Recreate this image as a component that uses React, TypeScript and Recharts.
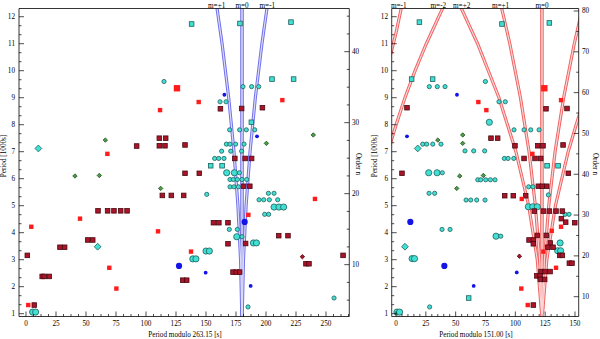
import { ComposedChart, XAxis, YAxis, Scatter, Line, ReferenceDot } from 'recharts'

type Pt = [number, number]

// shared period axis, in 1000 s
const periodRange: Pt = [0.896, 12.304]

// ---------- left panel: period modulo 263.15 s ----------
const xRangeL: Pt = [-5.83, 269.4]
const orderRangeL: Pt = [2.7, 46.08]

const cyanSmallL: Pt[] = [
  [115, 9.6], [161.7, 8.85], [166.7, 8.85], [180.8, 9.41], [188, 9.41], [193.9, 9.41],
  [169.7, 7.81], [178, 7.81], [183.6, 7.81], [190.6, 7.81],
  [167, 7.28], [170, 7.28], [174.7, 7.28], [181.7, 7.28],
  [163, 7.02], [170.6, 7.02], [179.7, 7.02],
  [157.2, 6.75], [160.6, 6.75], [165, 6.75],
  [177.8, 6.22],
  [170, 5.97], [172.8, 5.97], [176.1, 5.97], [180, 5.97], [183.9, 5.97],
  [170, 5.7], [173.3, 5.7], [177, 5.7],
  [150.6, 5.42], [202, 5.46], [206.7, 5.46],
  [194.2, 5.22], [198.1, 5.22], [202.8, 5.22], [209.7, 5.22],
  [198.9, 4.68], [202.2, 4.68],
  [169.4, 4.12], [176.1, 4.12],
  [180, 3.85], [185, 1.25], [256.7, 1.58],
]
const cyanBigL: Pt[] = [
  [167.2, 6.22], [173.6, 6.22], [206.7, 4.95], [210.8, 4.95], [214.7, 4.95],
  [175.6, 3.85], [189.5, 3.62], [192, 3.62], [150, 3.32], [152.8, 3.32],
  [139, 3.03], [141.6, 3.03], [5.5, 1.06], [8, 1.06],
]
const cyanSquareL: Pt[] = [
  [138, 11.73], [178.3, 11.75], [220.8, 11.8], [205, 9.69], [223, 9.69],
  [187.8, 8.09], [153.9, 6.48], [163.4, 6.48],
]
const cyanDiamondL: Pt[] = [[10.3, 7.12], [59.7, 3.48]]
const greenL: Pt[] = [[66.1, 7.43], [200.3, 7.31], [239.4, 7.62], [40.8, 6.1], [61.1, 6.12], [112.2, 5.64]]
const blueSmallL: Pt[] = [[165.3, 9.11], [192.5, 7.57], [149.7, 2.52], [187.2, 2.03]]
const blueBigL: Pt[] = [[182.2, 4.4], [127.5, 2.77]]
const redL: Pt[] = [
  [143.9, 8.84], [111.7, 8.54], [213.6, 8.91], [67.8, 6.92], [240.8, 5.25], [45, 4.52],
  [4.4, 4.22], [185.3, 4.66], [110, 4.05], [137.5, 3.3], [69.4, 2.7], [75.3, 1.93], [1.9, 1.32],
]
const redBigL: Pt[] = [[125.8, 9.35]]
const darkRedL: Pt[] = [
  [162, 8.59], [179.7, 8.6], [197, 8.63],
  [92.2, 7.21], [111.1, 7.5], [116.4, 7.5], [111.1, 7.22], [115.8, 7.22], [132.5, 7.25],
  [174, 6.75], [182.6, 6.75], [188, 6.75],
  [132.5, 6.2], [144.4, 6.2],
  [181.3, 5.72], [186.5, 5.72],
  [113.6, 5.38], [121.1, 5.38], [131.4, 5.38],
  [60, 4.81], [68, 4.81], [73.3, 4.81], [78.9, 4.81], [84.2, 4.81],
  [156.2, 4.37], [160.7, 4.37], [168.3, 4.37],
  [210.6, 3.89], [218.3, 3.89],
  [51.4, 3.73], [55.6, 3.73],
  [28.3, 3.46], [32.2, 3.46],
  [168.3, 3.59], [183, 3.6],
  [1.1, 3.16], [264.2, 3.16],
  [233.3, 2.85], [235.8, 2.85],
  [172.5, 2.54], [175.3, 2.54], [178, 2.54],
  [13.5, 2.38], [15.2, 2.38], [19.4, 2.38],
  [130.6, 2.24], [133.9, 2.24],
  [6.9, 1.32],
]
const darkRedDotL: Pt[] = [[230.3, 3.11]]

// splitting curves
const mZeroL: Pt[] = [[180, 0.8], [180, 12.5]]
const mPlus1L: Pt[] = [[179.9, 0.8], [178.8, 3], [176.6, 5], [173.3, 7], [168.9, 9], [163.4, 11], [158.9, 12.4]]
const mMinus1L: Pt[] = [[180.1, 0.8], [181.2, 3], [183.4, 5], [186.7, 7], [191.1, 9], [196.6, 11], [201.1, 12.4]]
const mLabelsL = [
  { text: 'm=+1', x: 158.9 },
  { text: 'm=0', x: 180 },
  { text: 'm=-1', x: 201.1 },
]

// ---------- right panel: period modulo 151.00 s ----------
const xRangeR: Pt = [-3.6, 153.1]
const orderRangeR: Pt = [5.15, 80.61]

const cyanSmallR: Pt[] = [
  [27.9, 9.41], [34.6, 9.41], [41.1, 9.41], [74.9, 9.6], [86.3, 8.85], [91.6, 8.85],
  [98.9, 7.81], [107.3, 7.81], [112.9, 7.81], [119.9, 7.81],
  [22.4, 7.28], [25.7, 7.28], [30.8, 7.28], [37.7, 7.28],
  [57.8, 7.03], [65.1, 7.03], [74.3, 7.03],
  [90.8, 6.75], [93.9, 6.75], [98.7, 6.75],
  [38.8, 6.22],
  [68.5, 5.96], [71, 5.96], [75.2, 5.96], [79.1, 5.96], [83, 5.96],
  [111.2, 5.7], [114.8, 5.7],
  [27.7, 5.46], [32.4, 5.46],
  [58.7, 5.21], [62.6, 5.21], [67.6, 5.21], [74.6, 5.21],
  [127.7, 5.4], [141.7, 4.68], [145, 4.68],
  [38.6, 4.12], [45.3, 4.12], [87.8, 3.87], [28.2, 1.25],
]
const cyanBigR: Pt[] = [
  [78.2, 8.09], [27.4, 6.22], [34.4, 6.22], [110.9, 4.96], [114.6, 4.96], [118.4, 4.96],
  [83.8, 3.87], [137.5, 3.62], [135.5, 3.33], [138, 3.33], [13.5, 3.04], [15.5, 3.04],
  [0.8, 1.06], [3, 1.06],
]
const cyanSquareR: Pt[] = [
  [19.6, 11.8], [88.8, 11.73], [128.5, 11.77], [13.1, 9.69], [30.7, 9.69],
  [126.6, 6.48], [135.8, 6.48], [60.9, 1.58],
]
const cyanDiamondR: Pt[] = [[18.2, 7.12], [7.5, 3.48]]
const greenR: Pt[] = [[35, 7.43], [55.9, 7.62], [55.9, 7.31], [53.4, 6.1], [73.2, 6.12], [50.9, 5.64]]
const blueSmallR: Pt[] = [[51.1, 9.11], [9.2, 7.57], [101.2, 2.53], [65.1, 2.03]]
const blueBigR: Pt[] = [[12, 4.4], [40.5, 2.77]]
const redR: Pt[] = [
  [69, 8.84], [75.7, 8.54], [138.3, 8.91], [114.3, 6.92], [105.4, 5.25], [138.3, 4.22],
  [130.5, 4.07], [123.5, 3.3], [134.1, 2.7], [105, 1.93], [110.4, 1.32],
]
const redBigR: Pt[] = [[124.3, 9.35]]
const darkRedR: Pt[] = [
  [9.2, 8.63], [125.7, 8.59], [143.3, 8.6],
  [79.6, 7.5], [85.2, 7.5],
  [99.7, 7.22], [118.8, 7.22], [123.2, 7.22], [140, 7.25],
  [107.3, 6.75], [116.5, 6.75], [121.3, 6.75],
  [5, 6.2], [144.4, 6.2],
  [119.3, 5.72], [122.6, 5.72], [126.3, 5.72],
  [91.1, 5.37], [98.3, 5.37], [108.7, 5.37],
  [115.9, 4.8], [123.5, 4.8], [128.5, 4.8], [134.1, 4.8], [139.4, 4.8],
  [138.6, 4.52], [142.2, 4.39], [149.8, 4.37],
  [118.4, 3.9], [126, 3.9],
  [111.5, 3.73], [115.1, 3.73],
  [115.1, 3.59], [129.3, 3.62],
  [127.2, 3.46], [131.6, 3.46],
  [137.2, 3.16], [139.4, 3.16],
  [145.3, 2.87], [147.5, 2.87],
  [121.5, 2.56], [124.9, 2.56], [129.1, 2.56],
  [118, 2.4], [120.7, 2.4],
  [121, 2.27], [124.6, 2.27],
  [115.1, 1.32],
]
const darkRedDotR: Pt[] = [[103.4, 3.13]]

// splitting curves (wrapped ones continue on the other side)
const mZeroR: Pt[] = [[122.3, 0.8], [122.3, 12.5]]
const mPlus1R: Pt[] = [[122.2, 1], [120.4, 3], [116.8, 5], [111.5, 7], [104.3, 9], [95.4, 11], [88.1, 12.4]]
const mMinus1R: Pt[] = [[122.6, 1], [124.4, 3], [128, 5], [133.3, 7], [140.5, 9], [149.4, 11], [156.7, 12.4]]
const mMinus1Rw: Pt[] = [[-6, 10.35], [-3.6, 10.76], [0, 11.4], [4.8, 12.4]]
const mPlus2R: Pt[] = [[122, 1], [118.4, 3], [111.2, 5], [100.5, 7], [86.3, 9], [68.4, 11], [53.8, 12.4]]
const mMinus2R: Pt[] = [[122.8, 1], [126.4, 3], [133.6, 5], [144.3, 7], [151, 8], [158.3, 9]]
const mMinus2Rw: Pt[] = [[-6, 7.12], [0.1, 8], [7.5, 9], [16, 10], [25.4, 11], [40, 12.4]]
const mLabelsR = [
  { text: 'm=-1', x: 2.3 },
  { text: 'm=-2', x: 35.5 },
  { text: 'm=+2', x: 55 },
  { text: 'm=+1', x: 87.6 },
  { text: 'm=0', x: 122.4 },
]

const FONT = '"Liberation Serif", "Times New Roman", serif'
const CYAN = '#40e0d4'
const CYAN_EDGE = '#20605c'
const DRED = '#aa1428'
const DRED_EDGE = '#4a0a12'
const RED = '#ff1c1c'
const BLUE = '#1414e8'
const GREEN = '#4a9e48'
const GREEN_EDGE = '#1f4d1f'

const rows = (pts: Pt[]) => pts.map(([x, y]) => ({ x, y }))

const dot = (r: number, fill: string, stroke = 'none') => (p: any) => (
  <circle cx={p.cx} cy={p.cy} r={r} fill={fill} stroke={stroke} strokeWidth={0.8} />
)
const box = (s: number, fill: string, stroke = 'none') => (p: any) => (
  <rect x={p.cx - s / 2} y={p.cy - s / 2} width={s} height={s} fill={fill} stroke={stroke} strokeWidth={0.8} />
)
const rhomb = (s: number, fill: string, stroke = 'none') => (p: any) => (
  <polygon
    points={`${p.cx},${p.cy - s} ${p.cx + s},${p.cy} ${p.cx},${p.cy + s} ${p.cx - s},${p.cy}`}
    fill={fill}
    stroke={stroke}
    strokeWidth={0.8}
  />
)

const stepTicks = (from: number, to: number, step: number) => {
  const out: number[] = []
  for (let i = Math.ceil(from / step - 1e-9); i * step <= to + 1e-9; i++) out.push(+(i * step).toFixed(4))
  return out
}
const isMult = (m: number) => (v: number) => Math.abs(v / m - Math.round(v / m)) < 1e-3

type Side = 'left' | 'right' | 'top' | 'bottom'
const txt = { fontFamily: FONT, fontSize: 7.2, fill: '#000', stroke: 'none' }

const makeTick = (side: Side, major: (v: number) => boolean, labelled: boolean) => (p: any) => {
  const { x, y, payload } = p
  const v = payload.value
  const big = major(v)
  const len = big ? 5 : 2.5
  const label = labelled && big ? String(Math.round(v)) : null
  const ln = { stroke: '#000', strokeWidth: 0.7 }
  if (side === 'bottom')
    return (
      <g>
        <line x1={x} y1={y} x2={x} y2={y - len} {...ln} />
        {label && <text x={x} y={Math.round(y + 10)} textAnchor="middle" {...txt}>{label}</text>}
      </g>
    )
  if (side === 'top') return <line x1={x} y1={y} x2={x} y2={y + len} {...ln} />
  if (side === 'left')
    return (
      <g>
        <line x1={x} y1={y} x2={x + len} y2={y} {...ln} />
        {label && <text x={Math.round(x - 4)} y={y + 2.4} textAnchor="end" {...txt}>{label}</text>}
      </g>
    )
  return (
    <g>
      <line x1={x} y1={y} x2={x - len} y2={y} {...ln} />
      {label && <text x={Math.round(x + 3)} y={y + 2.4} textAnchor="start" {...txt}>{label}</text>}
    </g>
  )
}

interface Curve { pts: Pt[]; center?: boolean }
interface Mark { pts: Pt[]; shape: (p: any) => any }

interface PanelProps {
  width: number
  margin: { top: number; right: number; bottom: number; left: number }
  xRange: Pt
  xMinor: number
  orderRange: Pt
  orderMinor: number
  curves: Curve[]
  outer: string
  inner: string
  marks: Mark[]
  labels: { text: string; x: number }[]
}

// axes need a non-zero size to be drawn; keep it tiny so the plot box stays put
const THIN = 0.01

function Panel(props: PanelProps) {
  const { width, margin, xRange, xMinor, orderRange, orderMinor, curves, outer, inner, marks, labels } = props
  const xTicks = stepTicks(xRange[0], xRange[1], xMinor)
  const yTicks = stepTicks(periodRange[0], periodRange[1], 1 / 3)
  const nTicks = stepTicks(orderRange[0], orderRange[1], orderMinor)
  const axisLine = { stroke: '#000', strokeWidth: 0.8 }
  const common = { type: 'number' as const, allowDataOverflow: true, tickLine: false, interval: 0 as const, tickSize: 0, tickMargin: 0, axisLine }
  return (
    <ComposedChart width={width} height={339} margin={margin}>
      <XAxis dataKey="x" domain={xRange} ticks={xTicks} height={THIN} tick={makeTick('bottom', isMult(25), true)} {...common} />
      <XAxis xAxisId="top" orientation="top" domain={xRange} ticks={xTicks} height={THIN} tick={makeTick('top', isMult(25), false)} {...common} />
      <YAxis dataKey="y" domain={periodRange} ticks={yTicks} width={THIN} tick={makeTick('left', isMult(1), true)} {...common} />
      <YAxis yAxisId="n" orientation="right" domain={orderRange} ticks={nTicks} width={THIN} tick={makeTick('right', isMult(10), true)} {...common} />

      {curves.map((c, i) => (
        <Line key={`o${i}`} data={rows(c.pts)} dataKey="y" type="linear" stroke={outer} strokeWidth={c.center ? 3.6 : 3.2} dot={false} activeDot={false} isAnimationActive={false} />
      ))}
      {curves.map((c, i) => (
        <Line key={`i${i}`} data={rows(c.pts)} dataKey="y" type="linear" stroke={inner} strokeWidth={c.center ? 2 : 1.2} strokeOpacity={c.center ? 0.75 : 1} dot={false} activeDot={false} isAnimationActive={false} />
      ))}

      {marks.map((m, i) => (
        <Scatter key={`s${i}`} data={rows(m.pts)} dataKey="y" shape={m.shape} isAnimationActive={false} />
      ))}

      {labels.map((l) => (
        <ReferenceDot
          key={l.text}
          x={l.x}
          y={periodRange[1]}
          r={0}
          ifOverflow="visible"
          fill="none"
          stroke="none"
          label={{ value: l.text, position: 'top', offset: 1, ...txt }}
        />
      ))}
    </ComposedChart>
  )
}

const marksFor = (
  cyanBig: Pt[], cyanSmall: Pt[], cyanSquare: Pt[], cyanDiamond: Pt[], green: Pt[],
  darkRed: Pt[], red: Pt[], redBig: Pt[], darkRedDot: Pt[], blueSmall: Pt[], blueBig: Pt[],
): Mark[] => [
  { pts: cyanBig, shape: dot(3.1, CYAN, CYAN_EDGE) },
  { pts: cyanSmall, shape: dot(2.1, CYAN, CYAN_EDGE) },
  { pts: cyanSquare, shape: box(4.6, CYAN, CYAN_EDGE) },
  { pts: cyanDiamond, shape: rhomb(3.4, CYAN, CYAN_EDGE) },
  { pts: green, shape: rhomb(2.2, GREEN, GREEN_EDGE) },
  { pts: darkRed, shape: box(4.6, DRED, DRED_EDGE) },
  { pts: red, shape: box(4.4, RED) },
  { pts: redBig, shape: box(6.4, RED) },
  { pts: darkRedDot, shape: rhomb(2.2, DRED, DRED_EDGE) },
  { pts: blueSmall, shape: dot(1.9, BLUE) },
  { pts: blueBig, shape: dot(3.1, BLUE) },
]

export default function App() {
  const titleTxt = { fontFamily: FONT, fontSize: 7.2, fill: '#000' }
  return (
    <div style={{ position: 'absolute', left: 0, top: 0, width: 600, height: 339, background: '#fff' }}>
      <div style={{ position: 'absolute', left: 0, top: 0 }}>
        <Panel
          width={370}
          margin={{ top: 8.5, right: 20.7, bottom: 22.5, left: 19 }}
          xRange={xRangeL}
          xMinor={6.25}
          orderRange={orderRangeL}
          orderMinor={2.5}
          curves={[{ pts: mZeroL, center: true }, { pts: mPlus1L }, { pts: mMinus1L }]}
          outer="#7272ea"
          inner="#dcdcfa"
          marks={marksFor(cyanBigL, cyanSmallL, cyanSquareL, cyanDiamondL, greenL, darkRedL, redL, redBigL, darkRedDotL, blueSmallL, blueBigL)}
          labels={mLabelsL}
        />
      </div>
      <div style={{ position: 'absolute', left: 370, top: 0 }}>
        <Panel
          width={230}
          margin={{ top: 8.5, right: 21.3, bottom: 22.5, left: 21.7 }}
          xRange={xRangeR}
          xMinor={5}
          orderRange={orderRangeR}
          orderMinor={5}
          curves={[
            { pts: mZeroR, center: true },
            { pts: mPlus1R }, { pts: mMinus1R }, { pts: mMinus1Rw },
            { pts: mPlus2R }, { pts: mMinus2R }, { pts: mMinus2Rw },
          ]}
          outer="#f06464"
          inner="#fcd6d6"
          marks={marksFor(cyanBigR, cyanSmallR, cyanSquareR, cyanDiamondR, greenR, darkRedR, redR, redBigR, darkRedDotR, blueSmallR, blueBigR)}
          labels={mLabelsR}
        />
      </div>
      <svg width={600} height={339} style={{ position: 'absolute', left: 0, top: 0, pointerEvents: 'none' }}>
        <text x={185} y={336.5} textAnchor="middle" {...titleTxt}>Period modulo 263.15 [s]</text>
        <text x={476} y={336.5} textAnchor="middle" {...titleTxt}>Period modulo 151.00 [s]</text>
        <text transform="translate(6,156) rotate(-90)" textAnchor="middle" {...titleTxt}>Period [1000s]</text>
        <text transform="translate(377,156) rotate(-90)" textAnchor="middle" {...titleTxt}>Period [1000s]</text>
        <text transform="translate(356,164) rotate(90)" textAnchor="middle" {...titleTxt}>Order n</text>
        <text transform="translate(593,164) rotate(90)" textAnchor="middle" {...titleTxt}>Order n</text>
      </svg>
    </div>
  )
}
